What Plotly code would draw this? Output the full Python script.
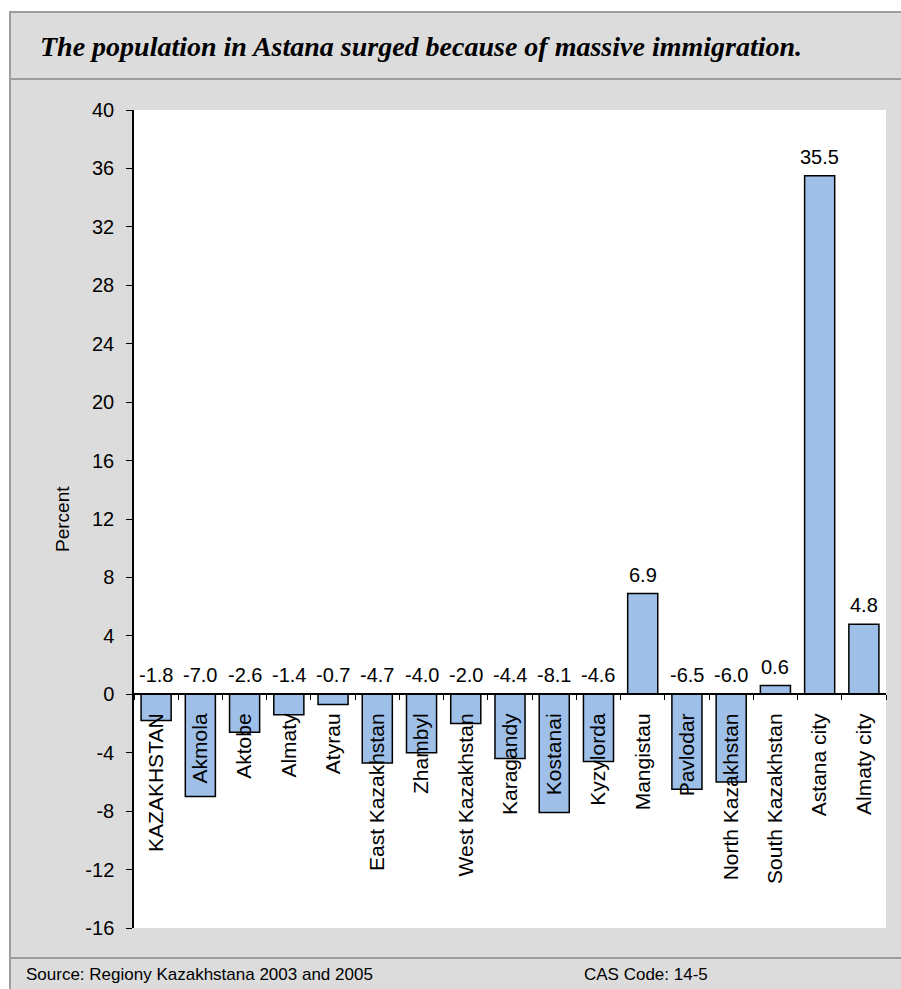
import plotly.graph_objects as go

categories = ["KAZAKHSTAN", "Akmola", "Aktobe", "Almaty", "Atyrau", "East Kazakhstan",
              "Zhambyl", "West Kazakhstan", "Karagandy", "Kostanai", "Kyzylorda",
              "Mangistau", "Pavlodar", "North Kazakhstan", "South Kazakhstan",
              "Astana city", "Almaty city"]
values = [-1.8, -7.0, -2.6, -1.4, -0.7, -4.7, -4.0, -2.0, -4.4, -8.1, -4.6,
          6.9, -6.5, -6.0, 0.6, 35.5, 4.8]
y_ticks = list(range(-16, 41, 4))

title_text = "The population in Astana surged because of massive immigration."
source_text = "Source: Regiony Kazakhstana 2003 and 2005"
code_text = "CAS Code: 14-5"
y_title = "Percent"

W, H = 901, 989
ML, MR, MT, MB = 134, 15, 110, 61
PW, PH = W - ML - MR, H - MT - MB
YMIN, YMAX = -16, 40

def px_x(px):
    return (px - ML) / PW

def px_y(py):
    return (H - MB - py) / PH

SANS = "Liberation Sans, Arial, sans-serif"
SERIF = "Liberation Serif, Times New Roman, serif"

fig = go.Figure()
fig.add_trace(go.Bar(
    x=categories, y=values,
    marker=dict(color="#9DBFE8", line=dict(color="black", width=1.5)),
    width=0.68,
    hoverinfo="skip",
))

# data labels
for c, v in zip(categories, values):
    fig.add_annotation(x=c, y=max(v, 0), text=f"{v:.1f}", showarrow=False,
                       yanchor="bottom", yshift=6,
                       font=dict(family=SANS, size=20, color="black"))

shapes = []
# grey panel
shapes.append(dict(type="rect", xref="paper", yref="paper",
                   x0=px_x(10), x1=px_x(910), y0=px_y(1000), y1=px_y(12),
                   fillcolor="#DCDCDC", line=dict(color="#9C9C9C", width=2), layer="below"))
# white plot area
shapes.append(dict(type="rect", xref="paper", yref="paper",
                   x0=0, x1=1, y0=0, y1=1,
                   fillcolor="white", line=dict(width=0), layer="below"))
# separators
for py in (79, 958):
    shapes.append(dict(type="line", xref="paper", yref="paper",
                       x0=px_x(10), x1=px_x(905), y0=px_y(py), y1=px_y(py),
                       line=dict(color="#9C9C9C", width=2), layer="below"))

fig.add_annotation(xref="paper", yref="paper", x=px_x(38), y=px_y(46),
                   xanchor="left", yanchor="middle", showarrow=False,
                   text=f"<b><i>{title_text}</i></b>",
                   font=dict(family=SERIF, size=28, color="black"))
fig.add_annotation(xref="paper", yref="paper", x=px_x(24), y=px_y(975),
                   xanchor="left", yanchor="middle", showarrow=False,
                   text=source_text, font=dict(family=SANS, size=17, color="black"))
fig.add_annotation(xref="paper", yref="paper", x=px_x(582), y=px_y(975),
                   xanchor="left", yanchor="middle", showarrow=False,
                   text=code_text, font=dict(family=SANS, size=17, color="black"))
fig.add_annotation(xref="paper", yref="paper", x=px_x(62), y=0.5,
                   xanchor="center", yanchor="middle", showarrow=False, textangle=-90,
                   text=y_title, font=dict(family=SANS, size=19, color="black"))

fig.update_layout(
    width=W, height=H,
    margin=dict(l=ML, r=MR, t=MT, b=MB),
    paper_bgcolor="white",
    plot_bgcolor="rgba(0,0,0,0)",
    showlegend=False,
    shapes=shapes,
    font=dict(family=SANS, size=20, color="black"),
    bargap=0.3,
)
fig.update_xaxes(
    type="category", range=[-0.5, len(categories) - 0.5],
    anchor="free", position=(0 - YMIN) / (YMAX - YMIN),
    showline=True, linecolor="black", linewidth=1.5,
    ticks="outside", tickson="boundaries", ticklen=5, tickcolor="black",
    tickangle=-90, ticklabelstandoff=10,
    tickfont=dict(family=SANS, size=21, color="black"),
    showgrid=False, zeroline=False, automargin=False,
)
fig.update_yaxes(
    range=[YMIN, YMAX], tickvals=y_ticks, ticktext=[str(t) for t in y_ticks],
    showline=True, linecolor="black", linewidth=1.5,
    ticks="outside", ticklen=6, tickcolor="black",
    ticklabelstandoff=8,
    tickfont=dict(family=SANS, size=20, color="black"),
    showgrid=False, zeroline=False, automargin=False,
)

fig.write_html("out.html")
